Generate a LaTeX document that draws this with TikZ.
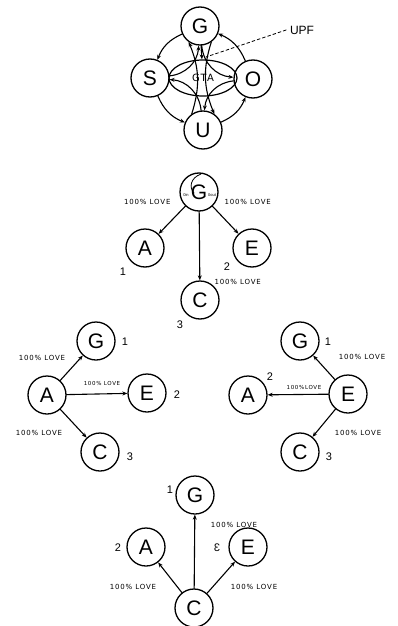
\documentclass[tikz,border=0pt]{standalone}
\usepackage{fontspec}
\setmainfont{Liberation Sans}
\newfontfamily\lovefont[LetterSpace=12]{DejaVu Sans}
\usepackage{graphicx}
\usetikzlibrary{arrows.meta,shapes.geometric}

\begin{document}
\begin{tikzpicture}[
  x=1pt, y=-1pt,
  line cap=round,
  line width=1.1pt,
  >={Stealth[length=5pt,width=4pt]},
  state/.style={circle, draw, line width=1.3pt, minimum size=38pt,
    inner sep=0pt, font=\fontsize{21}{21}\selectfont},
  love/.style={font=\fontsize{7}{8}\lovefont, inner sep=1pt},
  num/.style={font=\fontsize{11}{12}\selectfont, inner sep=0pt}
]
  \useasboundingbox (0,0) rectangle (398,626);

  % 顶部群组
  \node[state] (G1) at (200,26) {G};
  \node[state] (S1) at (150,78) {S};
  \node[state] (O1) at (253,79) {O};
  \node[state] (U1) at (203,130) {U};
  \node[ellipse, draw, line width=1.2pt, minimum width=68pt, minimum height=36pt,
    inner sep=0pt, font=\fontsize{10}{10}\lovefont] (GTA) at (203,78) {GTA};

  % 外圈与内圈
  \draw[->] (S1) to[bend right=40] (G1);
  \draw[->] (G1) to[bend right=22] (S1);
  \draw[->] (G1) to[bend right=40] (O1);
  \draw[->] (O1) to[bend right=22] (G1);
  \draw[->] (O1) to[bend right=40] (U1);
  \draw[->] (U1) to[bend right=22] (O1);
  \draw[->] (U1) to[bend right=40] (S1);
  \draw[->] (S1) to[bend right=22] (U1);

  % 穿过 GTA
  \draw[->] (G1) -- (GTA);
  \draw[->] (G1.-55) to[bend right=20] (U1.55);
  \draw[->] (U1.125) to[bend right=20] (G1.-125);

  % UPF
  \node[font=\fontsize{12}{12}\selectfont] (UPF) at (302,30) {UPF};
  \coordinate (UPFtip) at (206,57);
  \draw[line width=0.8pt, dash pattern=on 3pt off 2.5pt] (UPF.west) -- (UPFtip);

  % ---- G 出发 ----
  \node[state] (G2) at (199,192) {G};
  \node[font=\fontsize{4}{4}\selectfont, inner sep=0pt] (G2in) at (186,195) {0in};
  \node[font=\fontsize{4}{4}\selectfont, inner sep=0pt] (G2out) at (212,195) {0out};
  \draw[line width=0.8pt] (201,174) .. controls (190,178) and (189,188) .. (194,193);
  \node[state] (A2) at (145,248) {A};
  \node[state] (E2) at (252,248) {E};
  \node[state] (C2) at (200,300) {C};
  \draw[->] (G2) -- (A2);
  \draw[->] (G2) -- (C2);
  \draw[->] (G2) -- (E2);
  \node[love, anchor=east] (L2a) at (172,202) {100\% LOVE};
  \node[love, anchor=west] (L2b) at (223,202) {100\% LOVE};
  \node[love, anchor=west] (L2c) at (213,282) {100\% LOVE};
  \node[num] (n2a) at (123,272) {1};
  \node[num] (n2b) at (227,267) {2};
  \node[num] (n2c) at (180,325) {3};

  % ---- A 出发 ----
  \node[state] (G3) at (96,341) {G};
  \node[state] (A3) at (47,395) {A};
  \node[state] (E3) at (147,393) {E};
  \node[state] (C3) at (100,452) {C};
  \draw[->] (A3) -- (G3);
  \draw[->] (A3) -- (E3);
  \draw[->] (A3) -- (C3);
  \node[love] (L3a) at (42,358) {100\% LOVE};
  \node[love, font=\fontsize{5.5}{6}\lovefont] (L3b) at (102,383) {100\% LOVE};
  \node[love] (L3c) at (39,433) {100\% LOVE};
  \node[num] (n3a) at (125,342) {1};
  \node[num] (n3b) at (177,395) {2};
  \node[num] (n3c) at (130,457) {3};

  % ---- E 出发 ----
  \node[state] (G4) at (300,341) {G};
  \node[state] (A4) at (248,395) {A};
  \node[state] (E4) at (348,394) {E};
  \node[state] (C4) at (300,452) {C};
  \draw[->] (E4) -- (G4);
  \draw[->] (E4) -- (A4);
  \draw[->] (E4) -- (C4);
  \node[love] (L4a) at (362,357) {100\% LOVE};
  \node[love, font=\fontsize{5.5}{6}\lovefont] (L4b) at (304,387) {100\%LOVE};
  \node[love] (L4c) at (358,433) {100\% LOVE};
  \node[num] (n4a) at (328,342) {1};
  \node[num] (n4b) at (270,377) {2};
  \node[num] (n4c) at (329,457) {3};

  % ---- C 出发 ----
  \node[state] (G5) at (195,495) {G};
  \node[state] (A5) at (146,547) {A};
  \node[state] (E5) at (248,547) {E};
  \node[state] (C5) at (194,608) {C};
  \draw[->] (C5) -- (A5);
  \draw[->] (C5) -- (G5);
  \draw[->] (C5) -- (E5);
  \node[love] (L5a) at (234,525) {100\% LOVE};
  \node[love] (L5b) at (133,587) {100\% LOVE};
  \node[love] (L5c) at (254,587) {100\% LOVE};
  \node[num] (n5a) at (170,490) {1};
  \node[num] (n5b) at (118,548) {2};
  \node[num] (n5c) at (217,548) {\reflectbox{3}};

\end{tikzpicture}
\end{document}
